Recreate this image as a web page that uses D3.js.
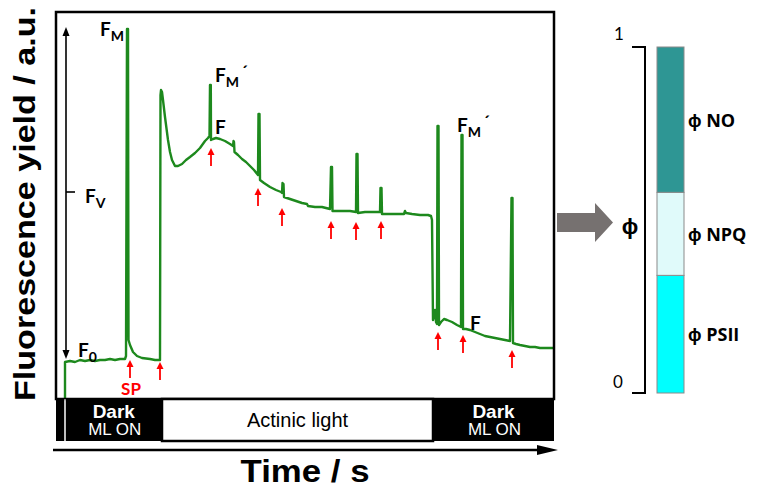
<!DOCTYPE html>
<html>
<head>
<meta charset="utf-8">
<script src="https://cdn.jsdelivr.net/npm/d3@7"></script>
<style>
  html, body { margin: 0; padding: 0; background: #fff; }
  svg { display: block; }
</style>
</head>
<body>
<script>
// trace of the fluorescence signal (time in s, yield in a.u.)
const time = [9, 9, 14, 19, 24, 29, 34, 39, 44, 49, 54, 59, 64, 69, 70, 71, 72, 72.5, 74, 77, 81, 86, 94, 99, 103,
	104, 104.5, 105, 106, 107, 109, 112, 114, 116, 119, 122, 126, 130, 134, 139, 144, 149, 152, 153.5,
	154, 154.8, 155, 157, 160, 164, 169, 174, 177, 177.5, 178, 178.5, 182, 186, 190, 194, 198, 202,
	202.5, 203.5, 204, 208, 214, 220, 225, 226, 226.5, 227.5, 228, 234, 240, 246, 251, 252, 259, 266, 274,
	275, 276, 276.5, 282, 289, 294, 300, 300.5, 301.5, 302, 309, 316, 322, 324,
	324.5, 325.5, 326, 334, 342, 348, 349, 350, 356, 364, 372, 375, 376,
	377, 378, 379, 380, 381, 381.5, 382.5, 383, 385, 388, 391, 396, 401, 405,
	405.5, 406.5, 407, 410, 414, 419, 424, 429, 434, 439, 444, 449, 454,
	455.5, 456.5, 457, 460, 464, 469, 474, 479, 484, 489, 498];
const yieldAU = [0, 37, 38, 37, 39, 38, 39, 38, 39, 39, 40, 39, 40, 40, 43, 370, 370, 59, 54, 47, 43, 41, 40, 39, 39,
	39, 304, 309, 307, 299, 282, 259, 247, 239, 233, 233, 235, 239, 242, 246, 251, 258, 261, 263,
	314, 314, 259, 260, 261, 260, 258, 255, 253, 258, 257, 247, 244, 240, 237, 233, 229, 224,
	285, 285, 219, 216, 212, 209, 207, 206, 216, 215, 202, 200, 198, 196, 195, 193, 192, 192, 190,
	232, 232, 188, 188, 188, 188, 187, 245, 245, 186, 187, 187, 187, 187,
	211, 211, 185, 185, 185, 185, 188, 186, 185, 184, 184, 183, 179,
	79, 84, 89, 77, 75, 273, 273, 74, 77, 80, 79, 77, 74, 72,
	264, 264, 70, 70, 69, 67, 65, 63, 62, 61, 60, 59, 58,
	201, 201, 56, 55, 54, 53, 52, 52, 51, 51, 51];

// saturating pulses (red arrows): time and signal level at the arrow tip
const pulseTime = [74, 104, 155, 202, 226, 275, 300, 325, 382, 407, 456];
const pulseLevel = [39, 37, 251, 211, 191, 178, 177, 178, 67, 64, 49];

// light regime bar
const phaseStart = [0, 9.5, 106, 377];
const phaseEnd = [8.5, 106, 377, 498];
const phaseName = ['', 'Dark', 'Actinic light', 'Dark'];
const phaseSub = ['', 'ML ON', '', 'ML ON'];

// quantum yield partitioning
const yieldNames = ['PSII', 'NPQ', 'NO'];
const yieldShares = [0.34, 0.24, 0.42];
const yieldColors = ['#00ffff', '#e0fafa', '#2e9694'];

const W = 757, H = 488;
const GREEN = '#1d891d';
const RED = '#ff0000';
const SANS = "'Liberation Sans', Arial, sans-serif";
const CAL = "Lato, 'Open Sans', sans-serif";

const svg = d3.select('body').append('svg')
	.attr('width', W)
	.attr('height', H);

const x = d3.scaleLinear().domain([0, 498]).range([56, 554]);
const y = d3.scaleLinear().domain([0, 387]).range([399, 12]);

// small filled arrow head with its tip at (px, py); dir 1 points down, -1 points up
function head(g, px, py, dir, w, h, fill) {
	g.append('path')
		.attr('d', `M${px},${py} L${px - w / 2},${py - dir * h} L${px + w / 2},${py - dir * h} Z`)
		.attr('fill', fill);
}

//#region trace
const clip = svg.append('defs').append('clipPath').attr('id', 'plotclip');
clip.append('rect').attr('x', x(0)).attr('y', y(387)).attr('width', x(498) - x(0)).attr('height', y(0) - y(387));

const line = d3.line()
	.x((d, i) => x(time[i]))
	.y((d, i) => y(yieldAU[i]));

svg.append('path')
	.datum(yieldAU)
	.attr('d', line)
	.attr('clip-path', 'url(#plotclip)')
	.attr('fill', 'none')
	.attr('stroke', GREEN)
	.attr('stroke-width', 2.4)
	.attr('stroke-linejoin', 'round');

const pulses = svg.append('g');
pulseTime.forEach((t, i) => {
	const tip = y(pulseLevel[i]);
	pulses.append('line')
		.attr('x1', x(t)).attr('x2', x(t))
		.attr('y1', tip + 5).attr('y2', tip + 18)
		.attr('stroke', RED)
		.attr('stroke-width', 1.8);
	head(pulses, x(t), tip, -1, 7, 7, RED);
});
//#endregion

//#region frame, regime bar and axes
svg.append('rect')
	.attr('x', x(0)).attr('y', y(387))
	.attr('width', x(498) - x(0)).attr('height', y(0) - y(387))
	.attr('fill', 'none').attr('stroke', '#000').attr('stroke-width', 2.5);

const bar = svg.append('g');
bar.selectAll('rect')
	.data(phaseName)
	.enter()
	.append('rect')
	.attr('x', (d, i) => x(phaseStart[i]))
	.attr('y', 399)
	.attr('width', (d, i) => x(phaseEnd[i]) - x(phaseStart[i]))
	.attr('height', 42)
	.attr('fill', d => d === 'Actinic light' ? '#fff' : '#000')
	.attr('stroke', '#000')
	.attr('stroke-width', d => d === 'Actinic light' ? 2.5 : 0);
bar.append('rect')
	.attr('x', x(8.5)).attr('y', 399).attr('width', x(9.5) - x(8.5)).attr('height', 42)
	.attr('fill', '#fff');
bar.selectAll('text.phase')
	.data(phaseName)
	.enter()
	.append('text')
	.attr('class', 'phase')
	.attr('x', (d, i) => (x(phaseStart[i]) + x(phaseEnd[i])) / 2)
	.attr('y', d => d === 'Actinic light' ? 427 : 418)
	.attr('text-anchor', 'middle')
	.attr('font-family', SANS)
	.attr('font-size', d => d === 'Actinic light' ? 20 : 19)
	.attr('font-weight', d => d === 'Actinic light' ? 'normal' : 'bold')
	.attr('fill', d => d === 'Actinic light' ? '#000' : '#fff')
	.text(d => d);
bar.selectAll('text.sub')
	.data(phaseSub)
	.enter()
	.append('text')
	.attr('class', 'sub')
	.attr('x', (d, i) => (x(phaseStart[i]) + x(phaseEnd[i])) / 2 + 1)
	.attr('y', 435)
	.attr('text-anchor', 'middle')
	.attr('font-family', SANS)
	.attr('font-size', 17)
	.attr('fill', '#fff')
	.text(d => d);

// time arrow
svg.append('line')
	.attr('x1', 53).attr('x2', 540)
	.attr('y1', 450).attr('y2', 450)
	.attr('stroke', '#000').attr('stroke-width', 2.5);
svg.append('path')
	.attr('d', 'M558,450 L537,445 L537,455 Z')
	.attr('fill', '#000');

svg.append('text')
	.attr('x', 305).attr('y', 482)
	.attr('text-anchor', 'middle')
	.attr('font-family', SANS)
	.attr('font-size', 32)
	.attr('font-weight', 'bold')
	.attr('textLength', 129)
	.attr('lengthAdjust', 'spacingAndGlyphs')
	.text('Time / s');

svg.append('text')
	.attr('transform', 'translate(35,204) rotate(-90)')
	.attr('text-anchor', 'middle')
	.attr('font-family', SANS)
	.attr('font-size', 30)
	.attr('font-weight', 'bold')
	.attr('textLength', 394)
	.attr('lengthAdjust', 'spacingAndGlyphs')
	.text('Fluorescence yield / a.u.');
//#endregion

//#region annotations
// Fv double arrow between F0 and Fm
const vArrow = svg.append('g');
vArrow.append('line')
	.attr('x1', x(10)).attr('x2', x(10))
	.attr('y1', y(364)).attr('y2', y(48))
	.attr('stroke', '#000').attr('stroke-width', 1.6);
head(vArrow, x(10), y(372), -1, 7, 9, '#000');
head(vArrow, x(10), y(40), 1, 7, 9, '#000');
vArrow.append('line')
	.attr('x1', x(10)).attr('x2', x(19))
	.attr('y1', y(207)).attr('y2', y(207))
	.attr('stroke', '#000').attr('stroke-width', 1.6);

function fLabel(px, py, sub, prime) {
	const t = svg.append('text')
		.attr('x', px).attr('y', py)
		.attr('font-family', CAL)
		.attr('font-weight', 'bold')
		.attr('font-size', 19)
		.attr('fill', '#000');
	t.append('tspan').text('F');
	if (sub) t.append('tspan').attr('font-size', 14).attr('dy', 5).text(sub);
	if (prime) t.append('tspan').attr('font-size', 17).attr('dy', -9).attr('dx', 2).text('´');
}
fLabel(x(44), y(363), 'M', false);
fLabel(x(159), y(317), 'M', true);
fLabel(x(159), y(265), '', false);
fLabel(x(29), y(196), 'V', false);
fLabel(x(22), y(42), '0', false);
fLabel(x(401), y(267), 'M', true);
fLabel(x(414), y(69), '', false);

svg.append('text')
	.attr('x', x(75)).attr('y', 395)
	.attr('text-anchor', 'middle')
	.attr('font-family', CAL)
	.attr('font-weight', 'bold')
	.attr('font-size', 17)
	.attr('fill', RED)
	.text('SP');
//#endregion

//#region partitioning of absorbed energy
const yb = d3.scaleLinear().domain([0, 1]).range([393, 47]);
const stack = d3.cumsum(yieldShares);

svg.append('path')
	.attr('d', 'M557,213 H595 V203 L613,222.5 L595,242 V232 H557 Z')
	.attr('fill', '#767170');

svg.append('path')
	.attr('d', `M632,${yb(1)} H645 V${yb(0)} H632`)
	.attr('fill', 'none').attr('stroke', '#000').attr('stroke-width', 2);

svg.append('text').attr('x', 619).attr('y', 40).attr('text-anchor', 'middle')
	.attr('font-family', CAL).attr('font-size', 17).text('1');
svg.append('text').attr('x', 618).attr('y', 388).attr('text-anchor', 'middle')
	.attr('font-family', CAL).attr('font-size', 17).text('0');
svg.append('text').attr('x', 630).attr('y', 234).attr('text-anchor', 'middle')
	.attr('font-family', "'Open Sans', sans-serif").attr('font-weight', 'bold')
	.attr('font-size', 22).text('ϕ');

const seg = svg.append('g');
seg.selectAll('rect')
	.data(yieldShares)
	.enter()
	.append('rect')
	.attr('x', 657)
	.attr('width', 27)
	.attr('y', (d, i) => yb(stack[i]))
	.attr('height', d => yb(0) - yb(d))
	.attr('fill', (d, i) => yieldColors[i])
	.attr('stroke', '#8a8a8a')
	.attr('stroke-width', 1);
seg.selectAll('text')
	.data(yieldNames)
	.enter()
	.append('text')
	.attr('x', 688)
	.attr('y', (d, i) => yb(stack[i] - yieldShares[i] / 2) + 7)
	.attr('font-family', "'Open Sans', sans-serif")
	.attr('font-weight', 'bold')
	.attr('font-size', 18)
	.text(d => 'ϕ ' + d);
//#endregion
</script>
</body>
</html>
